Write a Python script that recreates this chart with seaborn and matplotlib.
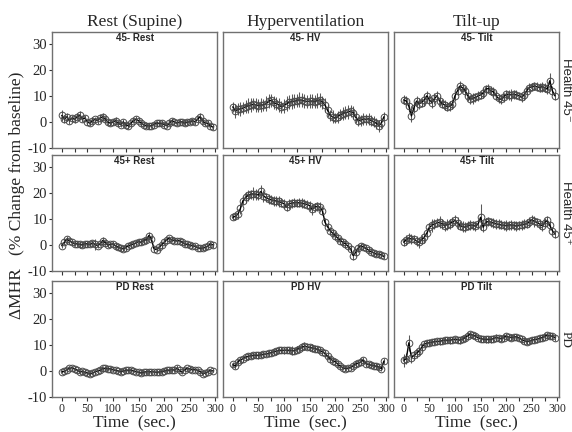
import numpy as np
import pandas as pd
import seaborn as sns
import matplotlib.pyplot as plt

# time axis (sec.), one sample every 5 s
time_sec = np.arange(0, 300, 5)

groups = ['45-', '45+', 'PD']
conditions = ['Rest', 'HV', 'Tilt']
col_titles = ['Rest (Supine)', 'Hyperventilation', 'Tilt-up']
row_labels = ['Health 45\u207b', 'Health 45\u207a', 'PD']

# % change of MHR from baseline
young_rest = [2.5, 1.0, 2.0, 0.5, 1.5, 1.0, 2.0, 2.5, 1.0, 1.5, 0.0, -0.5, 0.5, 1.0, 0.5,
              1.5, 2.0, 1.0, 0.0, -0.5, 0.0, 0.5, -0.5, -1.0, 0.0, -1.0, -1.5, -0.5, 0.5, 1.0,
              0.5, -0.5, -1.0, -1.5, -1.5, -1.5, -1.0, -0.5, -0.5, -0.5, -1.0, -1.5, -0.5, 0.5, 0.0,
              -0.5, 0.0, 0.0, -0.5, 0.0, 0.0, 0.5, 0.0, 1.0, 2.0, 0.5, -0.5, -0.5, -1.5, -2.0]
young_hv = [5.8, 4.2, 4.8, 5.0, 5.3, 5.8, 6.2, 6.5, 6.8, 6.5, 6.3, 6.5, 6.5, 7.0, 8.0,
            8.3, 7.5, 7.0, 6.5, 5.8, 6.2, 7.0, 7.5, 7.8, 8.0, 8.2, 8.5, 8.3, 8.0, 7.8,
            8.0, 8.0, 7.8, 8.2, 8.5, 7.5, 6.5, 4.5, 2.5, 2.0, 1.4, 2.0, 2.8, 3.2, 3.6,
            3.8, 4.2, 3.5, 1.8, 0.4, 0.6, 1.2, 1.0, 1.2, 0.5, 0.1, -0.5, -1.5, -0.5, 2.0]
young_tilt = [8.5, 8.0, 6.0, 2.3, 5.5, 8.0, 7.0, 7.4, 8.5, 10.0, 8.5, 7.4, 9.0, 10.0, 8.0,
              7.0, 6.5, 5.8, 6.0, 6.8, 10.0, 12.0, 13.8, 13.0, 12.0, 10.0, 8.7, 9.0, 9.4, 10.0,
              10.4, 11.0, 12.6, 12.8, 12.0, 11.5, 10.0, 9.0, 8.7, 9.5, 10.6, 10.5, 10.4, 10.6, 10.4,
              10.0, 9.4, 10.5, 12.0, 13.2, 13.5, 13.8, 13.5, 13.2, 13.5, 13.2, 12.6, 15.8, 12.0, 10.0]
older_rest = [-0.3, 1.0, 2.3, 1.5, 1.0, 0.5, 0.4, 0.2, 0.0, 0.5, 0.4, 0.2, 0.8, 0.2, -0.3,
              0.5, 1.7, 0.8, 0.0, 0.2, 0.4, -0.3, -0.9, -1.2, -1.5, -1.0, -0.3, 0.0, 0.4, 0.8,
              1.3, 1.0, 1.7, 2.0, 3.6, 2.3, -1.5, -1.8, -0.9, 0.0, 1.0, 2.0, 2.6, 2.0, 1.7,
              1.5, 1.7, 1.0, 0.4, 0.2, 0.0, -0.3, -0.5, -1.0, -1.3, -1.2, -0.9, -0.5, 0.4, 0.0]
older_hv = [10.6, 11.0, 11.8, 14.0, 17.0, 18.2, 19.0, 19.4, 19.6, 19.4, 19.2, 20.5, 18.7, 18.2, 17.7,
            17.3, 17.0, 16.9, 16.7, 16.2, 15.8, 14.5, 15.8, 16.0, 16.2, 16.2, 16.2, 16.0, 15.8, 15.5,
            15.1, 13.6, 14.5, 14.8, 14.5, 13.2, 8.7, 7.0, 5.5, 4.5, 3.6, 2.6, 1.7, 1.0, 0.4,
            -0.5, -1.5, -4.1, -2.8, -1.2, -0.3, -0.8, -1.3, -2.0, -2.6, -3.0, -3.5, -3.6, -3.8, -4.4]
older_tilt = [1.0, 2.0, 2.6, 2.3, 2.3, 1.5, 1.0, 2.0, 2.9, 4.5, 6.8, 7.5, 8.1, 8.5, 8.7,
              8.0, 7.4, 7.8, 8.1, 8.8, 9.4, 8.5, 7.4, 7.0, 6.8, 7.3, 7.7, 7.5, 7.2, 8.0,
              10.6, 6.8, 8.7, 9.0, 8.7, 8.4, 8.1, 7.9, 7.7, 7.5, 7.4, 7.6, 7.7, 7.5, 7.2,
              7.5, 7.7, 8.0, 8.1, 8.8, 9.7, 9.0, 8.7, 8.0, 7.4, 8.5, 9.4, 7.5, 5.5, 4.2]
pd_rest = [-0.3, -0.2, 0.5, 1.0, 1.2, 0.8, 0.3, -0.3, -0.2, -0.5, -0.8, -1.2, -0.8, -0.3, 0.0,
           0.3, 1.0, 1.0, 0.8, 0.8, 0.5, 0.2, 0.0, -0.3, 0.0, 0.3, 0.3, 0.3, 0.0, -0.3,
           -0.5, -0.8, -0.5, -0.3, -0.3, -0.3, -0.4, -0.5, -0.4, -0.3, 0.0, 0.3, 0.3, 0.5, 0.3,
           1.0, 0.2, -0.5, 0.5, 1.0, 0.8, 0.5, 0.5, 0.3, -0.3, -1.0, -0.8, -0.3, 0.2, 0.0]
pd_hv = [2.6, 1.8, 3.5, 4.2, 4.7, 5.2, 5.6, 5.8, 6.0, 6.0, 6.0, 6.2, 6.4, 6.5, 6.7,
         7.0, 7.3, 7.6, 7.9, 7.9, 7.9, 8.0, 7.9, 7.8, 7.7, 8.2, 8.6, 9.0, 9.5, 9.3,
         9.0, 8.8, 8.6, 8.3, 7.9, 7.3, 6.7, 5.7, 4.7, 4.0, 3.5, 2.6, 1.8, 1.3, 0.9,
         1.0, 1.3, 2.0, 2.6, 3.0, 3.5, 4.1, 2.8, 2.5, 2.2, 2.0, 1.8, 1.5, 0.9, 3.8]
pd_tilt = [4.1, 4.7, 10.8, 5.1, 6.0, 6.7, 7.7, 9.0, 10.3, 10.6, 10.8, 11.0, 11.2, 11.3, 11.4,
           11.6, 11.8, 11.8, 11.8, 12.0, 12.1, 12.0, 11.8, 12.2, 12.8, 13.5, 14.1, 13.7, 13.3, 12.8,
           12.4, 12.2, 12.1, 12.1, 12.1, 12.4, 12.8, 12.6, 12.4, 12.8, 13.3, 13.0, 12.8, 13.0, 13.1,
           12.6, 12.1, 11.6, 11.2, 11.5, 11.8, 12.0, 12.1, 12.5, 12.8, 13.2, 13.7, 13.5, 13.3, 12.8]

# error bar half-lengths
young_rest_err = [2.0, 1.5, 1.5, 1.2, 1.3, 1.5, 1.4, 1.6, 1.2, 1.3, 1.1, 1.2, 1.3, 1.0, 1.2,
                  1.4, 1.3, 1.2, 1.1, 1.0, 1.2, 1.3, 1.1, 1.0, 1.2, 1.1, 1.3, 1.0, 1.1, 1.2,
                  1.0, 1.1, 0.9, 1.0, 1.1, 0.9, 1.0, 0.9, 1.0, 1.1, 0.9, 1.0, 1.1, 1.0, 0.9,
                  1.0, 1.0, 0.9, 1.1, 1.0, 0.9, 1.0, 1.0, 1.1, 1.6, 1.2, 1.0, 1.1, 1.0, 1.2]
young_hv_err = [2.0, 2.5, 2.3, 2.6, 2.4, 2.5, 2.8, 2.6, 2.4, 2.7, 2.5, 2.6, 2.4, 2.8, 2.7,
                2.5, 2.6, 2.4, 2.5, 2.3, 2.6, 2.8, 2.7, 2.9, 2.8, 2.6, 2.9, 2.7, 2.8, 2.6,
                2.8, 2.7, 2.5, 2.8, 2.6, 2.4, 2.8, 2.5, 2.2, 2.4, 2.0, 2.3, 2.2, 2.5, 2.4,
                2.6, 2.3, 2.5, 2.2, 2.0, 2.2, 2.4, 2.1, 2.3, 2.0, 2.2, 2.1, 2.3, 2.0, 1.8]
young_tilt_err = [1.8, 2.0, 2.2, 2.5, 2.0, 1.8, 2.0, 1.7, 2.4, 2.0, 1.8, 2.0, 2.2, 1.9, 2.0,
                  1.8, 2.1, 1.7, 1.9, 2.0, 1.8, 1.6, 1.8, 1.7, 1.9, 2.0, 1.8, 2.1, 1.7, 1.8,
                  1.6, 1.9, 1.7, 1.8, 1.6, 1.8, 1.7, 1.9, 2.0, 1.7, 1.8, 1.9, 2.2, 1.8, 1.7,
                  1.6, 1.8, 1.9, 1.7, 1.8, 1.6, 1.7, 1.8, 1.6, 1.9, 1.8, 2.0, 3.0, 1.8, 1.5]
older_rest_err = [1.0, 1.2, 1.1, 1.3, 1.0, 0.9, 1.0, 1.2, 1.1, 1.0, 1.3, 1.1, 1.0, 2.0, 1.0,
                  0.9, 1.5, 1.0, 0.9, 1.1, 1.0, 1.2, 1.1, 1.0, 0.9, 1.0, 0.9, 1.0, 1.1, 1.0,
                  0.9, 1.0, 1.1, 1.2, 1.5, 1.0, 1.1, 1.0, 0.9, 1.0, 1.1, 1.0, 0.9, 1.0, 1.1,
                  1.0, 0.9, 1.0, 0.8, 0.9, 0.8, 0.9, 0.8, 0.7, 0.8, 0.8, 0.9, 0.8, 1.0, 1.0]
older_hv_err = [1.2, 1.5, 1.8, 2.0, 1.8, 2.0, 2.2, 1.8, 2.5, 2.0, 1.8, 2.4, 2.2, 1.8, 2.0,
                1.7, 1.9, 1.8, 2.0, 1.7, 1.8, 1.6, 1.9, 1.8, 1.7, 1.6, 1.8, 1.9, 1.7, 1.8,
                1.9, 2.0, 1.7, 1.8, 1.9, 1.7, 1.5, 1.6, 1.4, 1.5, 1.6, 1.4, 1.5, 1.3, 1.5,
                1.4, 1.6, 1.5, 1.3, 1.4, 1.2, 1.3, 1.4, 1.2, 1.3, 1.2, 1.1, 1.2, 1.0, 1.0]
older_tilt_err = [1.5, 2.0, 1.8, 2.0, 1.7, 1.9, 2.0, 1.8, 2.2, 2.0, 1.8, 2.5, 2.0, 1.8, 2.3,
                  2.0, 1.9, 2.1, 1.8, 2.0, 1.9, 2.2, 1.8, 2.0, 1.9, 1.7, 2.0, 1.8, 1.9, 2.0,
                  5.0, 2.0, 1.8, 1.9, 1.7, 2.0, 1.8, 1.9, 1.7, 1.8, 2.0, 1.7, 1.9, 1.8, 2.0,
                  1.7, 1.9, 1.8, 1.7, 1.9, 1.8, 2.0, 1.7, 1.8, 1.9, 1.7, 1.6, 1.8, 1.5, 1.4]
pd_rest_err = [0.6, 0.7, 0.6, 0.8, 0.6, 0.7, 0.5, 0.7, 0.6, 0.7, 0.6, 0.8, 0.6, 0.7, 0.6,
               0.7, 0.6, 0.8, 0.6, 0.7, 0.6, 0.7, 0.5, 0.7, 0.6, 0.7, 0.6, 0.7, 0.6, 0.8,
               0.6, 0.7, 0.6, 0.7, 0.5, 0.7, 0.6, 0.7, 0.6, 0.7, 0.6, 0.8, 0.6, 0.7, 0.9,
               1.2, 0.7, 0.6, 0.7, 0.6, 0.8, 0.6, 0.7, 0.6, 0.7, 0.6, 0.7, 0.6, 0.7, 0.6]
pd_hv_err = [1.0, 1.2, 1.1, 1.3, 1.2, 1.1, 1.3, 1.2, 1.2, 1.1, 1.3, 1.2, 1.1, 1.2, 1.3,
             1.2, 1.1, 1.3, 1.2, 1.2, 1.3, 1.1, 1.2, 1.6, 1.2, 1.3, 1.2, 1.4, 1.5, 1.3,
             1.2, 1.4, 1.3, 1.2, 1.1, 1.2, 1.3, 1.1, 1.2, 1.1, 1.0, 1.1, 1.0, 1.1, 1.0,
             1.1, 1.0, 1.2, 1.1, 1.2, 1.3, 1.2, 1.1, 1.0, 1.1, 1.0, 1.1, 1.0, 1.0, 1.2]
pd_tilt_err = [2.5, 2.0, 3.0, 2.0, 1.8, 1.6, 1.5, 1.4, 1.3, 1.2, 1.3, 1.2, 1.3, 1.2, 1.3,
               1.2, 1.3, 1.2, 1.3, 1.2, 1.3, 1.2, 1.3, 1.2, 1.3, 1.4, 1.3, 1.2, 1.3, 1.2,
               1.3, 1.2, 1.3, 1.4, 1.2, 1.3, 1.2, 1.3, 1.2, 1.3, 1.2, 1.3, 1.2, 1.3, 1.2,
               1.3, 1.2, 1.3, 1.2, 1.3, 1.2, 1.3, 1.2, 1.3, 1.2, 1.3, 1.4, 1.3, 1.2, 1.3]

values = {
    ('45-', 'Rest'): (young_rest, young_rest_err),
    ('45-', 'HV'): (young_hv, young_hv_err),
    ('45-', 'Tilt'): (young_tilt, young_tilt_err),
    ('45+', 'Rest'): (older_rest, older_rest_err),
    ('45+', 'HV'): (older_hv, older_hv_err),
    ('45+', 'Tilt'): (older_tilt, older_tilt_err),
    ('PD', 'Rest'): (pd_rest, pd_rest_err),
    ('PD', 'HV'): (pd_hv, pd_hv_err),
    ('PD', 'Tilt'): (pd_tilt, pd_tilt_err),
}

rows = []
for (g, c), (v, e) in values.items():
    for t, y, s in zip(time_sec, v, e):
        rows.append({'group': g, 'cond': c, 'time': t, 'mhr': y, 'err': s})
df = pd.DataFrame(rows)

sns.set_style('ticks')
plt.rcParams['axes.unicode_minus'] = False
serif = ['Liberation Serif', 'DejaVu Serif']
sans = ['Liberation Sans', 'DejaVu Sans']

W, H = 572, 432
fig = plt.figure(figsize=(W / 100, H / 100), dpi=100)

col_left = [52, 223, 394]
row_top = [32, 155, 281]
pw, ph = 165, 116

for i, g in enumerate(groups):
    for j, c in enumerate(conditions):
        ax = fig.add_axes([col_left[j] / W, 1 - (row_top[i] + ph) / H, pw / W, ph / H])
        sub = df[(df['group'] == g) & (df['cond'] == c)]

        ax.errorbar(sub['time'], sub['mhr'], yerr=sub['err'], fmt='none',
                    ecolor='#5a5a5a', elinewidth=0.75, capsize=0, zorder=1)
        sns.lineplot(data=sub, x='time', y='mhr', ax=ax, color='black', lw=1.0,
                     marker='o', markersize=4.8, markerfacecolor='none',
                     markeredgecolor='#4a4a4a', markeredgewidth=0.7, zorder=2)

        ax.set_xlim(-19, 303)
        ax.set_ylim(-10, 34.5)
        ax.set_xlabel('')
        ax.set_ylabel('')

        for sp in ax.spines.values():
            sp.set_color('#707070')
            sp.set_linewidth(1.0)

        ax.set_xticks(np.arange(0, 301, 25))
        if i == 2:
            ax.set_xticklabels([str(t) if t % 50 == 0 else '' for t in range(0, 301, 25)],
                               family=serif, fontsize=8.5)
        else:
            ax.set_xticklabels([])
        ax.tick_params(axis='x', length=3, width=0.8, pad=1.5, color='#333333')

        ax.set_yticks([-10, 0, 10, 20, 30])
        if j == 0:
            ax.set_yticklabels(['-10', '0', '10', '20', '30'], family=serif, fontsize=10.5)
            ax.tick_params(axis='y', length=2.5, width=0.8, pad=1, color='#333333')
        else:
            ax.set_yticklabels([])
            ax.tick_params(axis='y', length=0)

        ax.text(0.5, 0.995, f'{g} {c}', transform=ax.transAxes, ha='center', va='top',
                family=sans, fontweight='bold', fontsize=7)

        if i == 0:
            ax.set_title(col_titles[j], family=serif, fontsize=12.5, pad=4)
        if i == 2:
            ax.set_xlabel('Time  (sec.)', family=serif, fontsize=12.5, labelpad=0)

for i, lab in enumerate(row_labels):
    fam = serif if lab == 'PD' else sans
    fig.text(566 / W, 1 - (row_top[i] + ph / 2) / H, lab, rotation=-90,
             ha='center', va='center', family=fam, fontsize=9.5)

fig.text(17 / W, 1 - 195 / H, '\u0394MHR   (% Change from baseline)', rotation=90,
         ha='center', va='center', family=serif, fontsize=12.5)

fig.savefig('out.png', dpi=100)
